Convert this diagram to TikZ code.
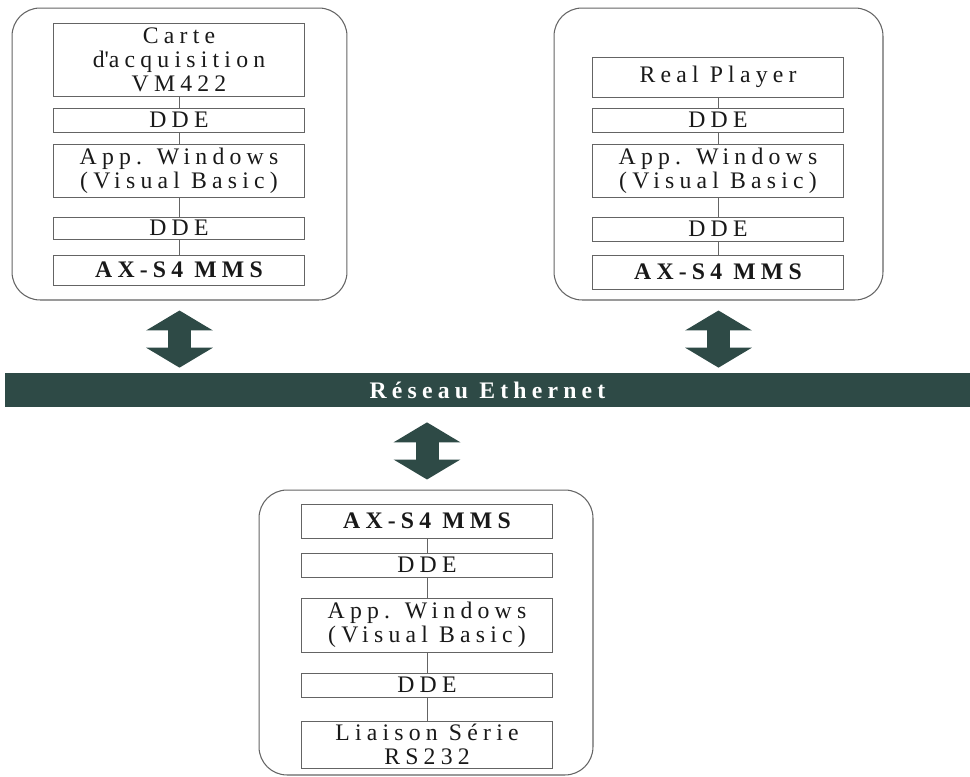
\documentclass[tikz,border=0pt]{standalone}
\usepackage{fontspec}
\setmainfont{Liberation Serif}
\newfontfamily\spaced[LetterSpace=22]{Liberation Serif}
\usetikzlibrary{arrows.meta,calc}
\definecolor{ether}{RGB}{46,74,70}
\definecolor{edge}{RGB}{100,100,100}

\begin{document}
\begin{tikzpicture}[x=0.02cm,y=-0.02cm,
  layer/.style={draw=edge,line width=0.5pt,minimum width=5.02cm,inner sep=0pt,align=center,
    font=\spaced\fontsize{13.5}{13.6}\selectfont,text=black!90},
  bold layer/.style={layer,font=\spaced\bfseries\fontsize{13.5}{13.6}\selectfont},
  host/.style={draw=edge,line width=0.6pt,rounded corners=0.56cm,inner sep=0pt},
  link/.style={draw=edge,line width=0.5pt},
  bigarrow/.style={ether,line width=0.46cm,
    {Triangle[width=1.32cm,length=0.4cm]}-{Triangle[width=1.32cm,length=0.4cm]}}]
  \useasboundingbox (0,0) rectangle (970,777);

  % postes
  \node[host,minimum width=6.7cm,minimum height=5.84cm] (panelL) at (179.5,154) {};
  \node[host,minimum width=6.58cm,minimum height=5.84cm] (panelR) at (718.5,154) {};
  \node[host,minimum width=6.68cm,minimum height=5.7cm] (panelB) at (426,632.5) {};

  % poste acquisition
  \node[layer,minimum height=1.46cm] (carteL) at (179,59.5) {Carte\\d\textquotesingle acquisition\\VM422};
  \node[layer,minimum height=0.48cm] (ddeLa) at (179,120) {DDE};
  \node[layer,minimum height=1.06cm] (appL) at (179,170.5) {App. Windows\\(Visual Basic)};
  \node[layer,minimum height=0.44cm] (ddeLb) at (179,228) {DDE};
  \node[bold layer,minimum height=0.6cm] (axL) at (179,270) {AX-S4 MMS};
  \draw[link] (carteL) -- (ddeLa);
  \draw[link] (ddeLa) -- (appL);
  \draw[link] (appL) -- (ddeLb);
  \draw[link] (ddeLb) -- (axL);

  % poste video
  \node[layer,minimum height=0.8cm] (realR) at (718,77) {Real Player};
  \node[layer,minimum height=0.48cm] (ddeRa) at (718,120) {DDE};
  \node[layer,minimum height=1.06cm] (appR) at (718,170.5) {App. Windows\\(Visual Basic)};
  \node[layer,minimum height=0.48cm] (ddeRb) at (718,229) {DDE};
  \node[bold layer,minimum height=0.68cm] (axR) at (718,272) {AX-S4 MMS};
  \draw[link] (realR) -- (ddeRa);
  \draw[link] (ddeRa) -- (appR);
  \draw[link] (appR) -- (ddeRb);
  \draw[link] (ddeRb) -- (axR);

  % poste liaison serie
  \node[bold layer,minimum height=0.68cm] (axB) at (427,521) {AX-S4 MMS};
  \node[layer,minimum height=0.48cm] (ddeBa) at (427,565) {DDE};
  \node[layer,minimum height=1.08cm] (appB) at (427,625) {App. Windows\\(Visual Basic)};
  \node[layer,minimum height=0.48cm] (ddeBb) at (427,685) {DDE};
  \node[layer,minimum height=0.94cm] (serB) at (427,744.5) {Liaison Série\\RS232};
  \draw[link] (axB) -- (ddeBa);
  \draw[link] (ddeBa) -- (appB);
  \draw[link] (appB) -- (ddeBb);
  \draw[link] (ddeBb) -- (serB);

  % reseau
  \node[fill=ether,minimum width=19.3cm,minimum height=0.68cm,inner sep=0pt,text=white,
    font=\spaced\bfseries\fontsize{13.5}{13.6}\selectfont] (ethernet) at (487.5,390) {Réseau Ethernet};

  \draw[bigarrow,shorten <=0.2cm,shorten >=0.1cm] (panelL.south) -- (panelL.south |- ethernet.north);
  \draw[bigarrow,shorten <=0.2cm,shorten >=0.1cm] (panelR.south) -- (panelR.south |- ethernet.north);
  \draw[bigarrow,shorten <=0.3cm,shorten >=0.2cm] (ethernet.south -| axB.north) -- (axB.north |- panelB.north);
\end{tikzpicture}
\end{document}
